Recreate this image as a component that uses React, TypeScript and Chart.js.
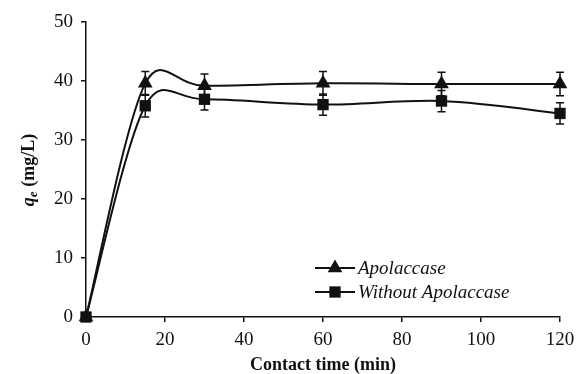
import React, { useEffect, useRef } from "react";
import { Chart, registerables } from "chart.js";

Chart.register(...registerables);

const times = [0, 15, 30, 60, 90, 120];
const apoValues = [0, 39.6, 39.2, 39.6, 39.5, 39.5];
const apoErrors = [0, 2.0, 2.0, 2.0, 2.0, 2.0];
const withoutValues = [0, 35.8, 36.9, 36.0, 36.6, 34.5];
const withoutErrors = [0, 1.9, 1.8, 1.8, 1.8, 1.8];
const seriesNames = ["Apolaccase", "Without Apolaccase"];
const xTicks = [0, 20, 40, 60, 80, 100, 120];
const yTicks = [0, 10, 20, 30, 40, 50];

const SERIF = "'Liberation Serif', 'Times New Roman', serif";

function drawMarker(ctx: CanvasRenderingContext2D, style: string, x: number, y: number, r: number) {
  ctx.beginPath();
  if (style === "triangle") {
    ctx.moveTo(x, y - r);
    ctx.lineTo(x + r * 0.866, y + r * 0.5);
    ctx.lineTo(x - r * 0.866, y + r * 0.5);
    ctx.closePath();
  } else {
    const s = r * Math.SQRT1_2;
    ctx.rect(x - s, y - s, 2 * s, 2 * s);
  }
  ctx.fill();
}

// Excel-like smoothing applied to Chart.js line control points
const smoothPlugin = {
  id: "excelSmooth",
  beforeDatasetsDraw(chart: any) {
    chart.data.datasets.forEach((_ds: any, i: number) => {
      const meta = chart.getDatasetMeta(i);
      const line = meta.dataset;
      const pts = meta.data;
      if (!line || !pts.length) return;
      if (line.updateControlPoints) line.updateControlPoints(chart.chartArea, meta.indexAxis);
      const n = pts.length;
      for (let k = 0; k < n; k++) {
        const p = pts[k];
        const prev = pts[Math.max(k - 1, 0)];
        const next = pts[Math.min(k + 1, n - 1)];
        const dx = (next.x - prev.x) / 6;
        const dy = (next.y - prev.y) / 6;
        const len = Math.hypot(dx, dy) || 1;
        const segPrev = Math.hypot(p.x - prev.x, p.y - prev.y);
        const segNext = Math.hypot(next.x - p.x, next.y - p.y);
        const sPrev = Math.min(1, (0.6 * segPrev) / len);
        const sNext = Math.min(1, (0.6 * segNext) / len);
        p.cp1x = p.x - dx * sPrev;
        p.cp1y = p.y - dy * sPrev;
        p.cp2x = p.x + dx * sNext;
        p.cp2y = p.y + dy * sNext;
      }
      line._pointsUpdated = true;
      line._path = undefined;
    });
  },
};

const errorBarPlugin = {
  id: "errorBars",
  afterDatasetsDraw(chart: any) {
    const ctx = chart.ctx;
    const xs = chart.scales.x;
    const ys = chart.scales.y;
    const errs = [apoErrors, withoutErrors];
    ctx.save();
    ctx.strokeStyle = "#111";
    ctx.lineWidth = 1.5;
    chart.data.datasets.forEach((ds: any, i: number) => {
      ds.data.forEach((p: any, j: number) => {
        const e = errs[i][j];
        if (!e) return;
        const x = xs.getPixelForValue(p.x);
        const yt = ys.getPixelForValue(p.y + e);
        const yb = ys.getPixelForValue(p.y - e);
        ctx.beginPath();
        ctx.moveTo(x, yt);
        ctx.lineTo(x, yb);
        ctx.moveTo(x - 4, yt);
        ctx.lineTo(x + 4, yt);
        ctx.moveTo(x - 4, yb);
        ctx.lineTo(x + 4, yb);
        ctx.stroke();
      });
    });
    ctx.restore();
  },
};

const legendPlugin = {
  id: "customLegend",
  afterDraw(chart: any) {
    const ctx = chart.ctx;
    const styles = ["triangle", "rect"];
    const rows = [268, 292];
    ctx.save();
    seriesNames.forEach((name, i) => {
      const y = rows[i];
      ctx.strokeStyle = "#111";
      ctx.lineWidth = 2;
      ctx.beginPath();
      ctx.moveTo(315, y);
      ctx.lineTo(355, y);
      ctx.stroke();
      ctx.fillStyle = "#111";
      drawMarker(ctx, styles[i], 335, y, i === 0 ? 8.5 : 8);
      ctx.font = `italic 19px ${SERIF}`;
      ctx.textAlign = "left";
      ctx.textBaseline = "middle";
      ctx.fillText(name, 358, y + 1);
    });
    ctx.restore();
  },
};

const yTitlePlugin = {
  id: "yTitle",
  afterDraw(chart: any) {
    const ctx = chart.ctx;
    ctx.save();
    ctx.translate(29, 170);
    ctx.rotate(-Math.PI / 2);
    ctx.fillStyle = "#111";
    ctx.textBaseline = "middle";
    ctx.textAlign = "left";
    const f1 = `bold italic 18px ${SERIF}`;
    const f2 = `bold italic 13px ${SERIF}`;
    const f3 = `bold 18px ${SERIF}`;
    ctx.font = f1;
    const w1 = ctx.measureText("q").width;
    ctx.font = f2;
    const w2 = ctx.measureText("e").width;
    ctx.font = f3;
    const w3 = ctx.measureText(" (mg/L)").width;
    let x = -(w1 + w2 + w3) / 2;
    ctx.font = f1;
    ctx.fillText("q", x, 0);
    x += w1;
    ctx.font = f2;
    ctx.fillText("e", x, 5);
    x += w2;
    ctx.font = f3;
    ctx.fillText(" (mg/L)", x, 0);
    ctx.restore();
  },
};

export default function App() {
  const ref = useRef<HTMLCanvasElement>(null);
  useEffect(() => {
    const canvas = ref.current!;
    const toPts = (vals: number[]) => times.map((t, i) => ({ x: t, y: vals[i] }));
    const chart = new Chart(canvas, {
      type: "line",
      data: {
        datasets: [
          {
            label: seriesNames[0],
            data: toPts(apoValues),
            borderColor: "#111",
            backgroundColor: "#111",
            borderWidth: 2,
            pointStyle: "triangle",
            pointRadius: 8.5,
            pointHoverRadius: 8.5,
            pointBorderWidth: 0,
            tension: 0.4,
            clip: false,
          },
          {
            label: seriesNames[1],
            data: toPts(withoutValues),
            borderColor: "#111",
            backgroundColor: "#111",
            borderWidth: 2,
            pointStyle: "rect",
            pointRadius: 8,
            pointHoverRadius: 8,
            pointBorderWidth: 0,
            tension: 0.4,
            clip: false,
          },
        ],
      },
      options: {
        responsive: false,
        animation: false,
        events: [],
        layout: { padding: { top: 22, right: 19, left: 0, bottom: 0 } },
        plugins: {
          legend: { display: false },
          tooltip: { enabled: false },
        },
        scales: {
          x: {
            type: "linear",
            min: 0,
            max: 120,
            afterBuildTicks: (s: any) => {
              s.ticks = xTicks.map((v) => ({ value: v }));
            },
            afterFit: (s: any) => {
              s.height = 57;
              s.paddingLeft = 0;
              s.paddingRight = 0;
            },
            grid: {
              drawOnChartArea: false,
              drawTicks: true,
              tickLength: 5,
              color: "#111",
              lineWidth: 1.5,
            },
            border: { color: "#111", width: 1.5 },
            ticks: {
              color: "#111",
              font: { family: SERIF, size: 19 },
              padding: 7,
              maxRotation: 0,
            },
            title: {
              display: true,
              text: "Contact time (min)",
              color: "#111",
              font: { family: SERIF, size: 18, weight: "bold" },
              padding: { top: 0, bottom: -2 },
            },
          },
          y: {
            type: "linear",
            min: 0,
            max: 50,
            afterBuildTicks: (s: any) => {
              s.ticks = yTicks.map((v) => ({ value: v }));
            },
            afterFit: (s: any) => {
              s.width = 86;
              s.paddingTop = 0;
              s.paddingBottom = 0;
            },
            grid: {
              drawOnChartArea: false,
              drawTicks: true,
              tickLength: 5,
              color: "#111",
              lineWidth: 1.5,
            },
            border: { color: "#111", width: 1.5 },
            ticks: {
              color: "#111",
              font: { family: SERIF, size: 19 },
              padding: 8,
            },
          },
        },
      },
      plugins: [smoothPlugin, errorBarPlugin, legendPlugin, yTitlePlugin],
    } as any);
    return () => chart.destroy();
  }, []);
  return (
    <div style={{ position: "fixed", left: 0, top: 0, width: 579, height: 374, background: "#fff" }}>
      <canvas ref={ref} width={579} height={374} style={{ width: 579, height: 374 }} />
    </div>
  );
}
